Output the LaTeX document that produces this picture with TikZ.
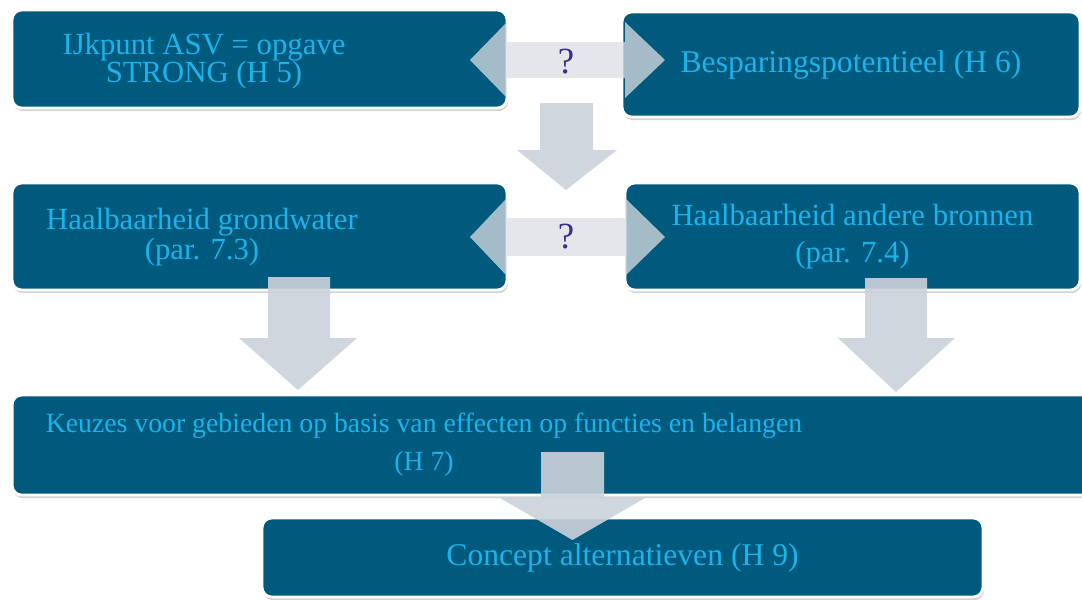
\documentclass[tikz,border=0pt]{standalone}
\usepackage{fontspec}
\setmainfont{Liberation Serif}
\usetikzlibrary{shadows}

\definecolor{boxblue}{RGB}{0,90,126}
\definecolor{boxtext}{RGB}{30,178,234}
\definecolor{arrowgrey}{RGB}{203,210,218}
\definecolor{dblgrey}{RGB}{219,222,226}
\definecolor{qpurple}{RGB}{60,45,140}

\tikzset{
  box/.style={rectangle, rounded corners=5.5pt, fill=boxblue, draw=white, line width=1.6pt,
    drop shadow={shadow xshift=0.7pt, shadow yshift=-1.8pt, opacity=0.35},
    text=boxtext, align=center, inner sep=0pt},
  boxtxt/.style={text=boxtext, align=center, inner sep=0pt},
  downarrow/.style={fill=arrowgrey, fill opacity=0.9},
  bothways/.style={fill=dblgrey, fill opacity=0.75},
  query/.style={text=qpurple, font=\fontsize{21}{21}\selectfont, inner sep=0pt}
}

\begin{document}
\begin{tikzpicture}[x=0.02cm, y=-0.02cm]
	\useasboundingbox (0,0) rectangle (1082,599);
	\node[box, minimum width=9.9cm, minimum height=1.96cm] (ijkpunt) at (259.5,59) {};
	\node[boxtxt, font=\fontsize{17.5}{16}\selectfont] (ijktext) at (204,61.5) {IJkpunt ASV = opgave\\STRONG (H 5)};
	\node[box, minimum width=9.16cm, minimum height=2.1cm, font=\fontsize{18}{18}\selectfont] (besparing) at (851,64.5) {\raisebox{-2pt}{Besparingspotentieel (H 6)}};
	\node[box, minimum width=9.9cm, minimum height=2.14cm] (grondwater) at (259.5,236.5) {};
	\node[boxtxt, font=\fontsize{17.5}{17}\selectfont] (grondtext) at (202,237.5) {Haalbaarheid grondwater\\(par. 7.3)};
	\node[box, minimum width=9.1cm, minimum height=2.14cm, font=\fontsize{17.5}{21}\selectfont] (bronnen) at (852.5,236.5) {Haalbaarheid andere bronnen\\(par. 7.4)};
	\node[box, minimum width=21.66cm, minimum height=2cm] (keuzes) at (553.5,445) {};
	\node[boxtxt, font=\fontsize{15.8}{21.6}\selectfont] (keuzetext) at (424,445) {Keuzes voor gebieden op basis van effecten op functies en belangen\\(H 7)};
	\node[box, minimum width=14.42cm, minimum height=1.58cm, font=\fontsize{18}{18}\selectfont] (concept) at (622.5,557.5) {\raisebox{-3pt}{Concept alternatieven (H 9)}};

	\fill[bothways] (470,60) -- (507,22) -- (507,42) -- (625,42) -- (625,22) -- (665,60) -- (625,98) -- (625,78) -- (507,78) -- (507,98) -- cycle;
	\fill[bothways] (470,237) -- (507,198) -- (507,218) -- (625,218) -- (625,198) -- (665,237) -- (625,276) -- (625,256) -- (507,256) -- (507,276) -- cycle;
	\node[query] (q1) at (566,62) {?};
	\node[query] (q2) at (566,237) {?};

	\fill[downarrow] (540,103) -- (593,103) -- (593,150) -- (617,150) -- (566,190) -- (517,150) -- (540,150) -- cycle;
	\fill[downarrow] (268,277) -- (330,277) -- (330,338) -- (357,338) -- (298,390) -- (239,338) -- (268,338) -- cycle;
	\fill[downarrow] (865,278) -- (927,278) -- (927,338) -- (955,338) -- (896,392) -- (838,338) -- (865,338) -- cycle;
	\fill[downarrow] (541,452) -- (604,452) -- (604,498) -- (645,498) -- (572.5,540) -- (500,498) -- (541,498) -- cycle;
\end{tikzpicture}
\end{document}
